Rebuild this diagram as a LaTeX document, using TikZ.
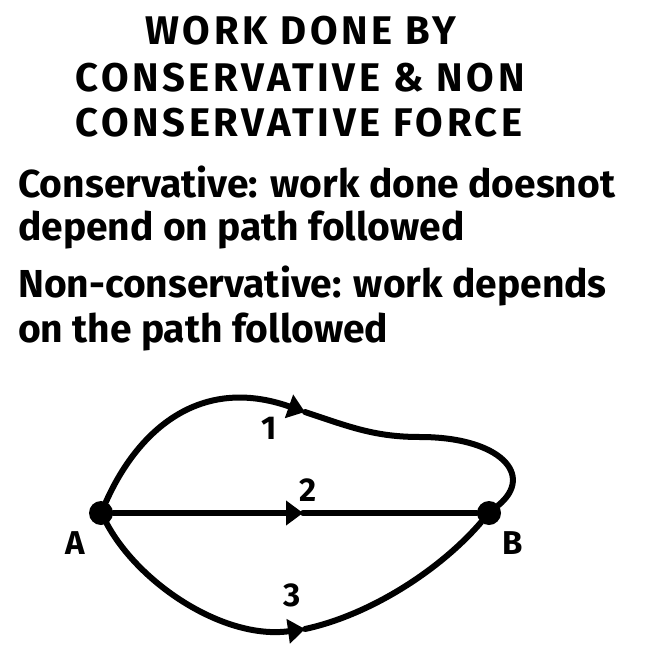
\documentclass[tikz,border=0pt]{standalone}
\usepackage{fontspec}
\setmainfont{Fira Sans}
\newfontfamily\headfont{Fira Sans}[LetterSpace=9]
\usetikzlibrary{arrows.meta,positioning}
\tikzset{
    >={Triangle[length=17pt,width=24pt]},
    heading/.style={anchor=base, inner sep=0pt, font=\headfont\fontsize{40}{45}\selectfont\bfseries},
    bodyline/.style={anchor=base west, inner sep=0pt, font=\fontsize{39}{45}\selectfont\bfseries},
    pathlabel/.style={inner sep=0pt, font=\fontsize{33}{36}\selectfont\bfseries},
    endpoint/.style={circle, fill=black, inner sep=0pt, minimum size=24pt},
    route/.style={draw, line width=6pt, line cap=round}
}
\begin{document}
\begin{tikzpicture}[x=1pt, y=-1pt]
    \useasboundingbox (0,0) rectangle (647,655);

    % heading
    \node[heading] (title1) at (301,45)  {WORK DONE BY};
    \node[heading] (title2) at (300,92)  {CONSERVATIVE \& NON};
    \node[heading] (title3) at (299,137) {CONSERVATIVE FORCE};

    % definitions
    \node[bodyline] (cons1) at (18,197) {Conservative: work done doesnot};
    \node[bodyline] (cons2) at (18,240) {depend on path followed};
    \node[bodyline] (ncons1) at (18,297) {Non-conservative: work depends};
    \node[bodyline] (ncons2) at (18,342) {on the path followed};

    % the two points
    \node[endpoint] (A) at (101,513) {};
    \node[endpoint] (B) at (489,513) {};
    \coordinate (m1) at (305,412);
    \coordinate (m2) at (303,513);
    \coordinate (m3) at (305,629);

    % path 1
    \draw[route,->] (A) .. controls (138,430) and (200,375) .. (m1);
    \draw[route] (m1) .. controls (350,427) and (375,437) .. (420,437)
                      .. controls (500,437) and (535,475) .. (B);
    % path 2
    \draw[route,->] (A) -- (m2);
    \draw[route] (m2) -- (B);
    % path 3
    \draw[route,->] (A) .. controls (140,585) and (225,640) .. (m3);
    \draw[route] (m3) .. controls (370,615) and (440,570) .. (B);

    \node[pathlabel] (l1) at (269,428) {1};
    \node[pathlabel] (l2) at (308,490) {2};
    \node[pathlabel] (l3) at (292,595) {3};
    \node[pathlabel] (lA) at (75,543) {A};
    \node[pathlabel] (lB) at (513,543) {B};
\end{tikzpicture}
\end{document}
